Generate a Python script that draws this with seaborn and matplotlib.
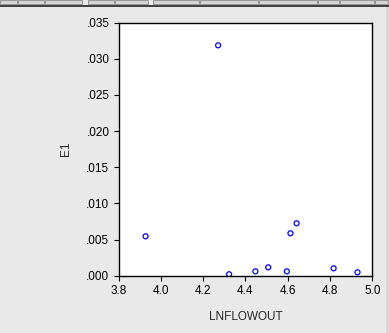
import matplotlib
matplotlib.use("Agg")
import matplotlib.pyplot as plt
import seaborn as sns
import pandas as pd
from matplotlib.patches import Rectangle
from matplotlib.lines import Line2D
from matplotlib.ticker import FuncFormatter

lnflowout = [3.928, 4.271, 4.323, 4.447, 4.508, 4.596, 4.613, 4.642, 4.817, 4.930]
e1 = [0.00545, 0.03187, 0.0002, 0.0006, 0.00116, 0.0006, 0.00587, 0.00725, 0.00102, 0.00047]
xticks = [3.8, 4.0, 4.2, 4.4, 4.6, 4.8, 5.0]
yticks = [0.000, 0.005, 0.010, 0.015, 0.020, 0.025, 0.030, 0.035]

df = pd.DataFrame({"LNFLOWOUT": lnflowout, "E1": e1})

sns.set_style("ticks")
plt.rcParams['font.family'] = ['Liberation Sans', 'DejaVu Sans']

W, H = 389, 333
fig = plt.figure(figsize=(W / 100, H / 100), dpi=100)
bg = '#e9e9e9'
fig.patch.set_facecolor(bg)

# toolbar strip at top
edges = [0, 18, 45, 83, 88, 115, 149, 153, 200, 259, 318, 340, 375, 389]
for i in range(len(edges) - 1):
    x0, x1 = edges[i], edges[i + 1]
    if x1 - x0 < 8:
        continue
    fig.add_artist(Rectangle((x0 / W, (H - 4) / H), (x1 - x0 - 1) / W, 4 / H,
                             transform=fig.transFigure, facecolor='#d4d4d4',
                             edgecolor='#8a8a8a', linewidth=0.6))
fig.add_artist(Line2D([0, 1], [(H - 5.5) / H] * 2, transform=fig.transFigure,
                      color='#202020', linewidth=1.2))
fig.add_artist(Line2D([386.5 / W] * 2, [0, (H - 7) / H], transform=fig.transFigure,
                      color='#c8c8c8', linewidth=1.0))

left, right = 118.5, 372.3
top, bottom = 22.7, 275.7
ax = fig.add_axes([left / W, (H - bottom) / H, (right - left) / W, (bottom - top) / H])
ax.set_facecolor('white')

sns.scatterplot(data=df, x="LNFLOWOUT", y="E1", ax=ax, marker='o', s=13,
                facecolors='none', edgecolor='#0000ff', linewidth=0.9)

ax.set_xlim(3.8, 5.0)
ax.set_ylim(0.0, 0.035)
ax.set_xticks(xticks)
ax.set_yticks(yticks)
ax.xaxis.set_major_formatter(FuncFormatter(lambda v, p: f"{v:.1f}"))
ax.yaxis.set_major_formatter(FuncFormatter(lambda v, p: f"{v:.3f}".lstrip('0')))
ax.tick_params(direction='out', length=3.5, width=0.8, labelsize=8.5,
               colors='black', pad=3)
for s in ax.spines.values():
    s.set_color('black')
    s.set_linewidth(1.0)

ax.set_xlabel("LNFLOWOUT", fontsize=8.5)
ax.set_ylabel("E1", fontsize=8.5)
ax.xaxis.set_label_coords(0.5, -0.14)
ax.yaxis.set_label_coords(-0.185, 0.5)

fig.savefig("out.png", dpi=100, facecolor=bg)
